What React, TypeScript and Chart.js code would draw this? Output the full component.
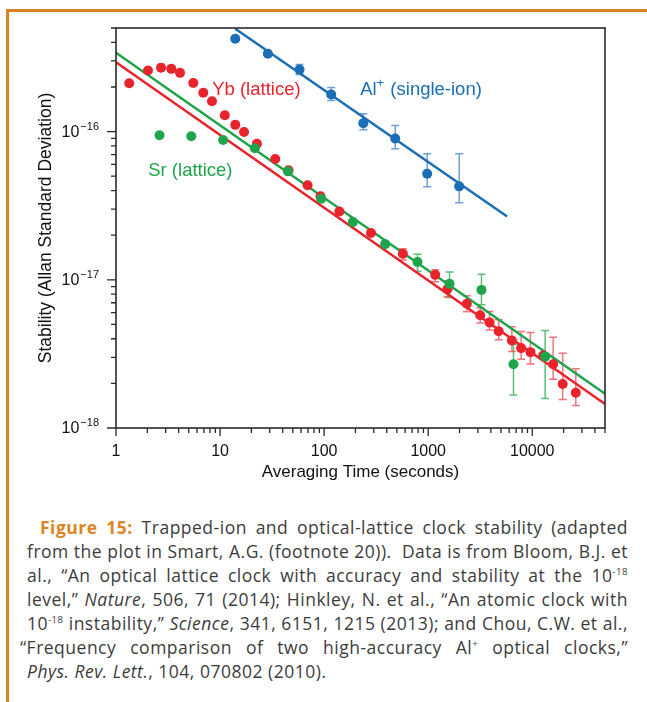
import React, { useEffect, useRef } from 'react';
import { Chart, registerables } from 'chart.js';

Chart.register(...registerables);

// ---------- Data ----------
const ybTau = [1.34, 2.03, 2.71, 3.4, 4.12, 5.53, 6.9, 8.36, 11.1, 14.0, 17.0, 22.6, 33.9, 45.5, 69.3, 92.3, 140, 282, 571, 1167, 1531, 2353, 3160, 3883, 4755, 6370, 7820, 9610, 12730, 15880, 19600, 26200];
const ybSigma = [2.12e-16, 2.58e-16, 2.7e-16, 2.65e-16, 2.49e-16, 2.13e-16, 1.83e-16, 1.6e-16, 1.29e-16, 1.11e-16, 9.95e-17, 8.29e-17, 6.54e-17, 5.48e-17, 4.34e-17, 3.66e-17, 2.89e-17, 2.07e-17, 1.5e-17, 1.08e-17, 8.65e-18, 6.89e-18, 5.77e-18, 5.16e-18, 4.49e-18, 3.89e-18, 3.46e-18, 3.25e-18, 3.08e-18, 2.69e-18, 1.98e-18, 1.73e-18];
const ybErrLow = [null, null, null, null, null, null, null, null, null, null, null, null, null, null, null, null, null, null, 1.36e-17, 9.69e-18, 7.67e-18, 6.08e-18, 5.12e-18, 4.59e-18, 3.94e-18, 3.28e-18, 2.91e-18, 2.7e-18, null, 2.13e-18, 1.56e-18, 1.42e-18];
const ybErrHigh = [null, null, null, null, null, null, null, null, null, null, null, null, null, null, null, null, null, null, 1.62e-17, 1.17e-17, 9.84e-18, 7.8e-18, 6.47e-18, 6.11e-18, 5.37e-18, 4.83e-18, 4.47e-18, 4.41e-18, null, 4.1e-18, 3.2e-18, 2.51e-18];

const srTau = [2.62, 5.29, 10.7, 21.6, 44.9, 93.8, 189, 386, 789, 1603, 3250, 6600, 13300];
const srSigma = [9.44e-17, 9.29e-17, 8.78e-17, 7.71e-17, 5.39e-17, 3.52e-17, 2.45e-17, 1.74e-17, 1.32e-17, 9.4e-18, 8.55e-18, 2.69e-18, 3.03e-18];
const srErrLow = [null, null, null, null, null, null, null, null, 1.14e-17, 7.59e-18, 6.78e-18, 1.67e-18, 1.58e-18];
const srErrHigh = [null, null, null, null, null, null, null, null, 1.49e-17, 1.13e-17, 1.09e-17, 3.68e-18, 4.54e-18];

const alTau = [14.0, 28.8, 58, 117, 238, 482, 978, 1985];
const alSigma = [4.23e-16, 3.35e-16, 2.62e-16, 1.78e-16, 1.14e-16, 8.97e-17, 5.2e-17, 4.27e-17];
const alErrLow = [null, null, 2.43e-16, 1.62e-16, 1.03e-16, 7.67e-17, 4.25e-17, 3.31e-17];
const alErrHigh = [null, null, 2.84e-16, 1.98e-16, 1.32e-16, 1.1e-16, 7.1e-17, 7.1e-17];

const ybFitTau = [1, 50000];
const ybFitSigma = [2.94e-16, 1.45e-18];
const srFitTau = [1, 50000];
const srFitSigma = [3.4e-16, 1.7e-18];
const alFitTau = [14, 5740];
const alFitSigma = [4.94e-16, 2.67e-17];

const xMajorTicks = [1, 10, 100, 1000, 10000];
const xTickLabels = ['1', '10', '100', '1000', '10000'];
const yMajorTicks = [1e-18, 1e-17, 1e-16];
const yTickExponents = ['\u221218', '\u221217', '\u221216'];

const X_MIN = 1;
const X_MAX = 50000;
const Y_MIN = 1e-18;
const Y_MAX = 5e-16;

const RED = '#e8232b';
const GREEN = '#1fa44b';
const BLUE = '#1b6db5';
const FONT = '"Liberation Sans", Arial, Helvetica, sans-serif';

const toPts = (xs: number[], ys: number[]) => xs.map((v, i) => ({ x: v, y: ys[i] }));

const minorTicks = (majors: number[], maxV: number) => {
  const out: number[] = [];
  majors.forEach((m) => {
    for (let k = 1; k <= 9; k++) {
      const v = m * k;
      if (v <= maxV * 1.0001) out.push(v);
    }
  });
  return out;
};

const errorBarPlugin = {
  id: 'errorBars',
  beforeDatasetsDraw(chart: any) {
    const { ctx, scales } = chart;
    const x = scales.x;
    const y = scales.y;
    ctx.save();
    ctx.beginPath();
    ctx.rect(chart.chartArea.left, chart.chartArea.top, chart.chartArea.right - chart.chartArea.left, chart.chartArea.bottom - chart.chartArea.top);
    ctx.clip();
    chart.data.datasets.forEach((ds: any) => {
      if (!ds.errLow) return;
      ctx.strokeStyle = ds.errColor;
      ctx.lineWidth = 1.5;
      ds.data.forEach((pt: any, i: number) => {
        const lo = ds.errLow[i];
        const hi = ds.errHigh[i];
        if (lo == null || hi == null) return;
        const px = x.getPixelForValue(pt.x);
        const yl = y.getPixelForValue(lo);
        const yh = y.getPixelForValue(hi);
        ctx.beginPath();
        ctx.moveTo(px, yl);
        ctx.lineTo(px, yh);
        ctx.moveTo(px - 4, yl);
        ctx.lineTo(px + 4, yl);
        ctx.moveTo(px - 4, yh);
        ctx.lineTo(px + 4, yh);
        ctx.stroke();
      });
    });
    ctx.restore();
  },
};

type Part = { t: string; sup?: boolean };
const annotations: { parts: Part[]; x: number; y: number; color: string }[] = [
  { parts: [{ t: 'Yb (lattice)' }], x: 8.4, y: 1.92e-16, color: RED },
  { parts: [{ t: 'Al' }, { t: '+', sup: true }, { t: ' (single-ion)' }], x: 222, y: 1.92e-16, color: BLUE },
  { parts: [{ t: 'Sr (lattice)' }], x: 2.04, y: 5.4e-17, color: GREEN },
];

const axesPlugin = {
  id: 'axesDecor',
  afterDraw(chart: any) {
    const { ctx, chartArea: a, scales } = chart;
    const x = scales.x;
    const y = scales.y;
    ctx.save();
    // frame
    ctx.strokeStyle = '#2a2a2a';
    ctx.lineWidth = 1.6;
    ctx.strokeRect(a.left, a.top, a.right - a.left, a.bottom - a.top);

    // ticks
    ctx.lineWidth = 1.3;
    ctx.beginPath();
    minorTicks(xMajorTicks, X_MAX).forEach((v) => {
      const px = x.getPixelForValue(v);
      const major = xMajorTicks.includes(v);
      ctx.moveTo(px, a.bottom);
      ctx.lineTo(px, a.bottom + (major ? 8 : 5));
    });
    minorTicks(yMajorTicks, Y_MAX).forEach((v) => {
      const py = y.getPixelForValue(v);
      const major = yMajorTicks.some((m) => Math.abs(m - v) / m < 1e-6);
      ctx.moveTo(a.left, py);
      ctx.lineTo(a.left - (major ? 9 : 5), py);
    });
    ctx.stroke();

    // x tick labels
    ctx.fillStyle = '#111';
    ctx.font = `16px ${FONT}`;
    ctx.textAlign = 'center';
    ctx.textBaseline = 'middle';
    xMajorTicks.forEach((v, i) => {
      ctx.fillText(xTickLabels[i], x.getPixelForValue(v), a.bottom + 24);
    });

    // y tick labels with superscript exponent
    yMajorTicks.forEach((v, i) => {
      const py = y.getPixelForValue(v);
      ctx.font = `16px ${FONT}`;
      const w1 = ctx.measureText('10').width;
      ctx.font = `11px ${FONT}`;
      const w2 = ctx.measureText(yTickExponents[i]).width;
      const right = a.left - 17;
      const start = right - w1 - w2 - 1;
      ctx.textAlign = 'left';
      ctx.font = `16px ${FONT}`;
      ctx.fillText('10', start, py + 1);
      ctx.font = `11px ${FONT}`;
      ctx.fillText(yTickExponents[i], start + w1 + 1, py - 5);
    });

    // in-plot labels
    annotations.forEach((an) => {
      let cx = x.getPixelForValue(an.x);
      const cy = y.getPixelForValue(an.y);
      ctx.fillStyle = an.color;
      ctx.textAlign = 'left';
      an.parts.forEach((p) => {
        ctx.font = p.sup ? `13px ${FONT}` : `18.5px ${FONT}`;
        ctx.fillText(p.t, cx, p.sup ? cy - 6 : cy);
        cx += ctx.measureText(p.t).width + (p.sup ? 1 : 0);
      });
    });
    ctx.restore();
  },
};

function ChartView() {
  const ref = useRef<HTMLCanvasElement | null>(null);
  useEffect(() => {
    if (!ref.current) return;
    const pointDs = (label: string, xs: number[], ys: number[], lo: any[], hi: any[], color: string, errColor: string, order: number) => ({
      label,
      data: toPts(xs, ys),
      showLine: false,
      pointRadius: 5,
      pointBorderWidth: 0,
      pointBackgroundColor: color,
      backgroundColor: color,
      borderColor: color,
      errLow: lo,
      errHigh: hi,
      errColor,
      order,
    });
    const lineDs = (label: string, xs: number[], ys: number[], color: string) => ({
      label,
      data: toPts(xs, ys),
      showLine: true,
      pointRadius: 0,
      borderWidth: 2.5,
      borderColor: color,
      backgroundColor: color,
      fill: false,
      order: 3,
    });
    const chart = new Chart(ref.current, {
      type: 'scatter',
      data: {
        datasets: [
          pointDs('Sr (lattice)', srTau, srSigma, srErrLow, srErrHigh, GREEN, 'rgba(40,170,80,0.75)', 0),
          pointDs('Yb (lattice)', ybTau, ybSigma, ybErrLow, ybErrHigh, RED, 'rgba(232,45,55,0.65)', 1),
          pointDs('Al+ (single-ion)', alTau, alSigma, alErrLow, alErrHigh, BLUE, 'rgba(60,130,200,0.75)', 1),
          lineDs('Yb fit', ybFitTau, ybFitSigma, RED),
          lineDs('Sr fit', srFitTau, srFitSigma, GREEN),
          lineDs('Al fit', alFitTau, alFitSigma, BLUE),
        ] as any,
      },
      options: {
        animation: false,
        responsive: true,
        maintainAspectRatio: false,
        devicePixelRatio: 1,
        events: [],
        layout: { padding: { left: 0, right: 42, top: 28, bottom: 0 } },
        plugins: { legend: { display: false }, tooltip: { enabled: false } },
        scales: {
          x: {
            type: 'logarithmic',
            min: X_MIN,
            max: X_MAX,
            bounds: 'data',
            grid: { display: false },
            border: { display: false },
            ticks: { display: false },
            title: {
              display: true,
              text: 'Averaging Time (seconds)',
              color: '#111',
              font: { family: FONT, size: 17 },
              padding: { top: 0, bottom: 17 },
            },
            afterFit: (s: any) => {
              s.height = 72;
            },
          },
          y: {
            type: 'logarithmic',
            min: Y_MIN,
            max: Y_MAX,
            bounds: 'data',
            grid: { display: false },
            border: { display: false },
            ticks: { display: false },
            title: {
              display: true,
              text: 'Stability (Allan Standard Deviation)',
              color: '#111',
              font: { family: FONT, size: 17.5 },
              padding: { top: 36, bottom: 0 },
            },
            afterFit: (s: any) => {
              s.width = 116;
            },
          },
        },
      } as any,
      plugins: [errorBarPlugin, axesPlugin],
    });
    return () => chart.destroy();
  }, []);
  return <canvas ref={ref} />;
}

const lineJ: React.CSSProperties = { textAlign: 'justify', textAlignLast: 'justify', whiteSpace: 'nowrap' };
const supS: React.CSSProperties = { fontSize: '0.55em', verticalAlign: '0.75em', lineHeight: 0 };

export default function App() {
  return (
    <div style={{ position: 'relative', width: 647, height: 702, overflow: 'hidden', background: '#fff' }}>
      <style>{'body{margin:0;}'}</style>
      <div style={{ position: 'absolute', left: 6, top: 9, width: 641, height: 3, background: '#d9821f' }} />
      <div style={{ position: 'absolute', left: 6, top: 9, width: 3, height: 693, background: '#d9821f' }} />
      <div style={{ position: 'absolute', left: 0, top: 0, width: 647, height: 500 }}>
        <ChartView />
      </div>
      <div
        style={{
          position: 'absolute',
          left: 27,
          top: 515,
          width: 601,
          fontFamily: '"Open Sans", Lato, sans-serif',
          fontSize: 17.5,
          letterSpacing: '0.5px',
          lineHeight: '24px',
          color: '#3c3c3c',
        }}
      >
        <div style={{ ...lineJ, paddingLeft: 13 }}>
          <span style={{ color: '#dc8526', fontWeight: 700 }}>Figure 15:</span> Trapped-ion and optical-lattice clock stability (adapted
        </div>
        <div style={lineJ}>from the plot in Smart, A.G. (footnote 20)).&nbsp; Data is from Bloom, B.J. et</div>
        <div style={lineJ}>
          al., “An optical lattice clock with accuracy and stability at the 10<span style={supS}>-18</span>
        </div>
        <div style={lineJ}>
          level,” <i>Nature</i>, 506, 71 (2014); Hinkley, N. et al., “An atomic clock with
        </div>
        <div style={lineJ}>
          10<span style={supS}>-18</span> instability,” <i>Science</i>, 341, 6151, 1215 (2013); and Chou, C.W. et al.,
        </div>
        <div style={{ ...lineJ, marginLeft: -7, width: 608 }}>
          “Frequency comparison of two high-accuracy Al<span style={supS}>+</span> optical clocks,”
        </div>
        <div style={{ whiteSpace: 'nowrap' }}>
          <i>Phys. Rev. Lett.</i>, 104, 070802 (2010).
        </div>
      </div>
    </div>
  );
}
